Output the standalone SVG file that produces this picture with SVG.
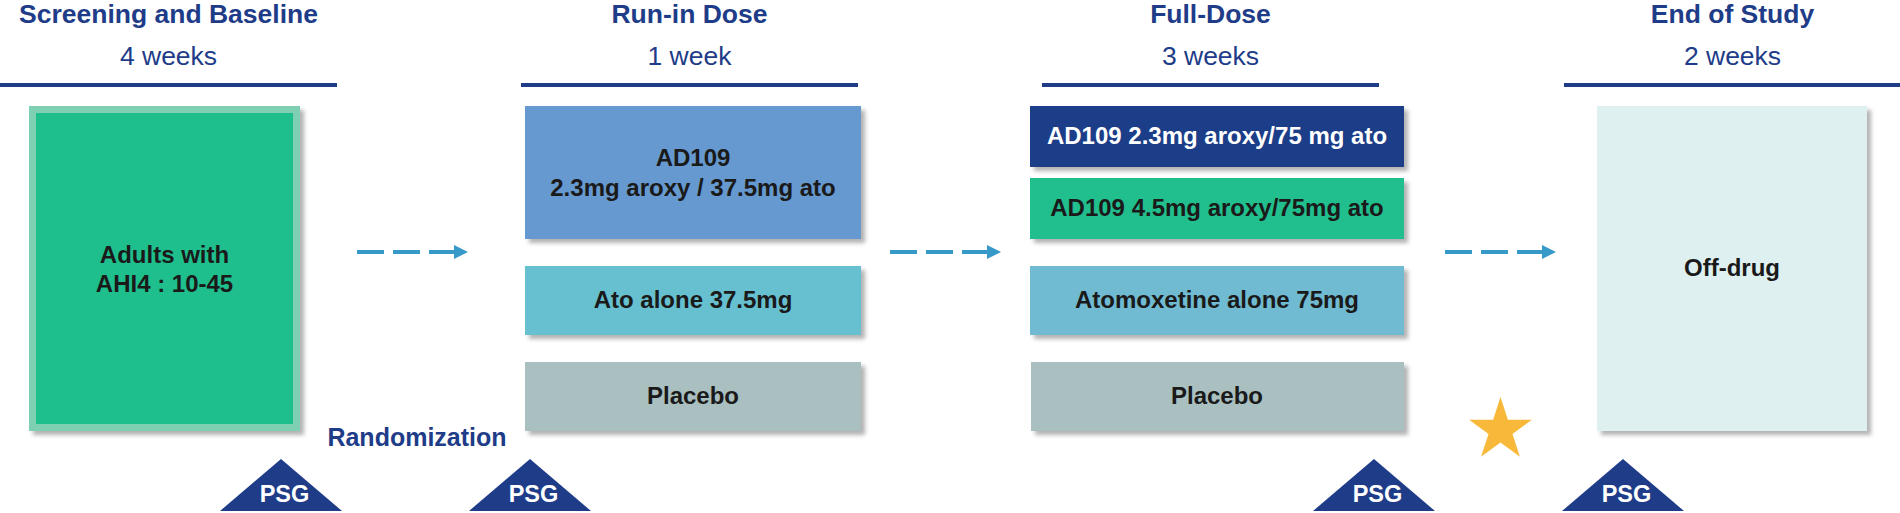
<svg xmlns="http://www.w3.org/2000/svg" width="1900" height="513" viewBox="0 0 1900 513">
<defs>
<style>
.hd{font-family:"Liberation Sans",Arial,sans-serif;font-weight:bold;font-size:26.5px;fill:#1E3C88;text-anchor:middle}
.sub{font-family:"Liberation Sans",Arial,sans-serif;font-size:26.5px;fill:#1E3C88;text-anchor:middle}
.bar{fill:#1E3C88}
.t{font-family:"Liberation Sans",Arial,sans-serif;font-weight:bold;font-size:24px;fill:#1a1a1a;text-anchor:middle}
.tw{fill:#ffffff}
.psg{font-family:"Liberation Sans",Arial,sans-serif;font-weight:bold;font-size:23.5px;fill:#ffffff;text-anchor:middle}
.tri{fill:#1E3C88}
.box{filter:url(#sh)}
.arr{stroke:#3799C8;stroke-width:4;stroke-dasharray:27 9;fill:none;marker-end:url(#ah)}
</style>
<filter id="sh" x="-10%" y="-10%" width="125%" height="125%">
<feDropShadow dx="4" dy="4" stdDeviation="2" flood-color="#000" flood-opacity="0.3"/>
</filter>
<marker id="ah" markerUnits="userSpaceOnUse" markerWidth="14" markerHeight="14" viewBox="0 0 14 14" refX="0" refY="7" orient="auto">
<path d="M0,0 L14,7 L0,14 Z" fill="#3799C8"/>
</marker>
</defs>
<rect width="1900" height="513" fill="#ffffff"/>

<g id="header-screening">
<text class="hd" x="168.5" y="23">Screening and Baseline</text>
<text class="sub" x="168.5" y="65">4 weeks</text>
<rect class="bar" x="0" y="83" width="337" height="4"/>
</g>
<g id="header-runin">
<text class="hd" x="689.5" y="23">Run-in Dose</text>
<text class="sub" x="689.5" y="65">1 week</text>
<rect class="bar" x="521" y="83" width="337" height="4"/>
</g>
<g id="header-fulldose">
<text class="hd" x="1210.5" y="23">Full-Dose</text>
<text class="sub" x="1210.5" y="65">3 weeks</text>
<rect class="bar" x="1042" y="83" width="337" height="4"/>
</g>
<g id="header-end">
<text class="hd" x="1732.5" y="23">End of Study</text>
<text class="sub" x="1732.5" y="65">2 weeks</text>
<rect class="bar" x="1564" y="83" width="336" height="4"/>
</g>

<g id="node-screening">
<rect class="box" x="29" y="106" width="271" height="325" fill="#7FCFB3"/>
<rect x="36" y="113" width="257" height="311" fill="#1FBF8D"/>
<text class="t" x="164.5" y="263">Adults with</text>
<text class="t" x="164.5" y="292">AHI4 : 10-45</text>
</g>

<g id="node-runin-ad109">
<rect class="box" x="525" y="106" width="336" height="133" fill="#6699CF"/>
<text class="t" x="693" y="166">AD109</text>
<text class="t" x="693" y="196">2.3mg aroxy / 37.5mg ato</text>
</g>
<g id="node-runin-ato">
<rect class="box" x="525" y="266" width="336" height="69" fill="#66C0D0"/>
<text class="t" x="693" y="308">Ato alone 37.5mg</text>
</g>
<g id="node-runin-placebo">
<rect class="box" x="525" y="362" width="336" height="69" fill="#A9BFC0"/>
<text class="t" x="693" y="404">Placebo</text>
</g>

<g id="node-full-ad109-23">
<rect class="box" x="1030" y="106" width="374" height="61" fill="#1E3C88"/>
<text class="t tw" x="1217" y="144">AD109 2.3mg aroxy/75 mg ato</text>
</g>
<g id="node-full-ad109-45">
<rect class="box" x="1030" y="178" width="374" height="61" fill="#20BF8E"/>
<text class="t" x="1217" y="216">AD109 4.5mg aroxy/75mg ato</text>
</g>
<g id="node-full-ato">
<rect class="box" x="1030" y="266" width="374" height="69" fill="#6FBAD2"/>
<text class="t" x="1217" y="308">Atomoxetine alone 75mg</text>
</g>
<g id="node-full-placebo">
<rect class="box" x="1031" y="362" width="373" height="69" fill="#A9BFC0"/>
<text class="t" x="1217" y="404">Placebo</text>
</g>

<g id="node-offdrug">
<rect class="box" x="1597" y="106" width="270" height="325" fill="#DFF0F0"/>
<text class="t" x="1732" y="276">Off-drug</text>
</g>

<g id="label-randomization">
<text class="hd" x="417" y="446" style="font-size:25px">Randomization</text>
</g>

<g id="star">
<path d="M1500.5,397 L1507.9,419.8 L1531.9,419.8 L1512.5,433.9 L1519.9,456.7 L1500.5,442.6 L1481.1,456.7 L1488.5,433.9 L1469.1,419.8 L1493.1,419.8 Z" fill="#F8B93A"/>
</g>

<g id="psg-1">
<path class="tri" d="M281,459 L342,511 L220,511 Z"/>
<text class="psg" x="284.5" y="502">PSG</text>
</g>
<g id="psg-2">
<path class="tri" d="M530,459 L591,511 L469,511 Z"/>
<text class="psg" x="533.5" y="502">PSG</text>
</g>
<g id="psg-3">
<path class="tri" d="M1374,459 L1435,511 L1313,511 Z"/>
<text class="psg" x="1377.5" y="502">PSG</text>
</g>
<g id="psg-4">
<path class="tri" d="M1623,459 L1684,511 L1562,511 Z"/>
<text class="psg" x="1626.5" y="502">PSG</text>
</g>

<g id="connectors">
<line class="arr" x1="357" y1="252" x2="454" y2="252"/>
<line class="arr" x1="890" y1="252" x2="987" y2="252"/>
<line class="arr" x1="1445" y1="252" x2="1542" y2="252"/>
</g>
</svg>
